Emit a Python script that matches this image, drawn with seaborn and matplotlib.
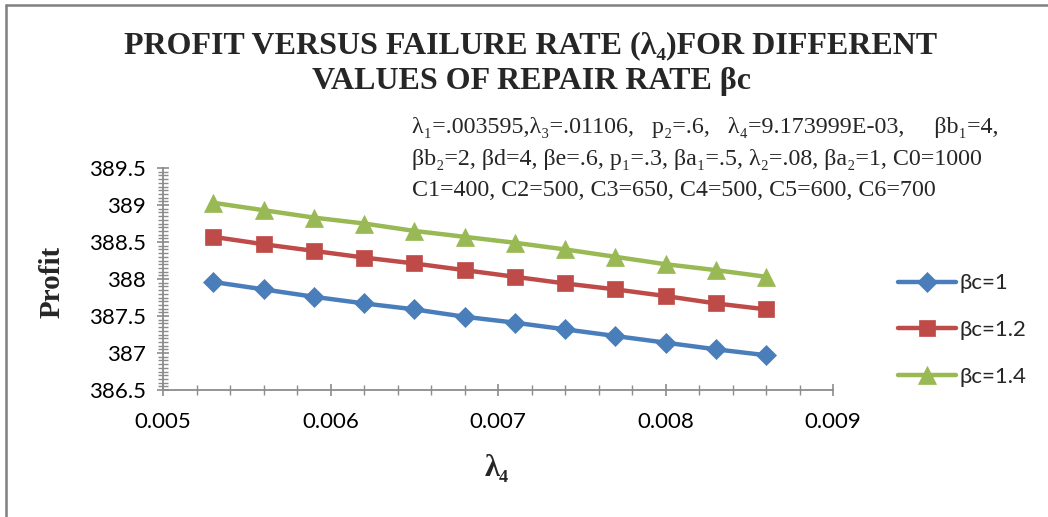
import matplotlib
matplotlib.use("Agg")
import matplotlib.pyplot as plt
from matplotlib.ticker import MultipleLocator, FuncFormatter
from matplotlib.lines import Line2D
import seaborn as sns
import pandas as pd

# ---- data ----
lambda4 = [0.0053, 0.0056, 0.0059, 0.0062, 0.0065, 0.0068,
           0.0071, 0.0074, 0.0077, 0.0080, 0.0083, 0.0086]
profit_bc1 = [387.96, 387.86, 387.76, 387.67, 387.59, 387.49,
              387.41, 387.32, 387.23, 387.14, 387.05, 386.97]
profit_bc12 = [388.57, 388.47, 388.38, 388.29, 388.21, 388.12,
               388.03, 387.94, 387.86, 387.77, 387.67, 387.59]
profit_bc14 = [389.03, 388.93, 388.83, 388.75, 388.65, 388.57,
               388.49, 388.40, 388.30, 388.20, 388.12, 388.03]
series_labels = ["βc=1", "βc=1.2", "βc=1.4"]
x_ticks = [0.005, 0.006, 0.007, 0.008, 0.009]
y_ticks = [386.5, 387, 387.5, 388, 388.5, 389, 389.5]

title_text = "PROFIT VERSUS FAILURE RATE (λ₄)FOR DIFFERENT\nVALUES OF REPAIR RATE βc"
param_lines = [
    "λ₁=.003595,λ₃=.01106,   p₂=.6,   λ₄=9.173999E-03,     βb₁=4,",
    "βb₂=2, βd=4, βe=.6, p₁=.3, βa₁=.5, λ₂=.08, βa₂=1, C0=1000",
    "C1=400, C2=500, C3=650, C4=500, C5=600, C6=700",
]

colors = ["#4A7EBB", "#BE4B48", "#98B954"]
markers = ["D", "s", "^"]
msizes = [10.5, 11, 12.5]

sns.set_theme(style="white")
plt.rcParams["font.family"] = ["Lato", "DejaVu Sans"]

W, H = 1048, 517
fig = plt.figure(figsize=(W / 100, H / 100), dpi=100)
ax = fig.add_axes([163 / W, 1 - 390 / H, (833 - 163) / W, (390 - 168) / H])

series = [profit_bc1, profit_bc12, profit_bc14]
for vals, lab, c, m, ms in zip(series, series_labels, colors, markers, msizes):
    df = pd.DataFrame({"lambda4": lambda4, "Profit": vals})
    sns.lineplot(data=df, x="lambda4", y="Profit", ax=ax, color=c, marker=m,
                 markersize=ms, markeredgecolor=c, markeredgewidth=0.5,
                 linewidth=3.2, label=lab)

ax.set_xlim(0.005, 0.009)
ax.set_ylim(386.5, 389.5)
ax.set_xticks(x_ticks)
ax.set_yticks(y_ticks)
ax.xaxis.set_minor_locator(MultipleLocator(0.0002))
ax.yaxis.set_minor_locator(MultipleLocator(0.05))
fmt = FuncFormatter(lambda v, p: f"{v:g}")
ax.xaxis.set_major_formatter(fmt)
ax.yaxis.set_major_formatter(fmt)

for s in ["top", "right"]:
    ax.spines[s].set_visible(False)
for s in ["left", "bottom"]:
    ax.spines[s].set_color("#8C8C8C")
    ax.spines[s].set_linewidth(1.3)
ax.tick_params(which="major", direction="inout", length=9, width=1.2,
               color="#8C8C8C", labelsize=16, labelcolor="black")
ax.tick_params(which="minor", direction="inout", length=7, width=1.0,
               color="#8C8C8C")
ax.tick_params(axis="y", which="both", left=True, pad=8)
ax.tick_params(axis="x", which="both", bottom=True, pad=11)
ax.grid(False)

ax.set_xlabel("")
ax.set_ylabel("")

# axis titles
fig.text(497 / W, 1 - 468 / H, "λ₄", ha="center", va="center",
         fontsize=22, fontweight="bold",
         family=["Liberation Serif", "DejaVu Serif"])
fig.text(52 / W, 1 - 282 / H, "Profit", ha="center", va="center",
         rotation=90, fontsize=21, fontweight="bold",
         family=["Liberation Serif", "DejaVu Serif"])

# chart title
fig.text(531 / W, 1 - 64 / H, title_text, ha="center", va="center",
         fontsize=23, fontweight="bold", linespacing=1.3,
         family=["Liberation Serif", "DejaVu Serif"])

# parameter box text
for i, line in enumerate(param_lines):
    fig.text(412 / W, 1 - (128 + 31 * i) / H, line, ha="left", va="center",
             fontsize=17.3, family=["Liberation Serif", "DejaVu Serif"])

# legend
leg = ax.legend(loc="center left", bbox_to_anchor=(898 / W, 1 - 330 / H),
                bbox_transform=fig.transFigure, frameon=False, fontsize=16,
                handlelength=2.6, handletextpad=0.15, labelspacing=1.2,
                borderpad=0, borderaxespad=0)

# chart border (top and left visible)
fig.add_artist(Line2D([6 / W, 1], [1 - 5 / H, 1 - 5 / H], color="#808080",
                      linewidth=1.8, transform=fig.transFigure))
fig.add_artist(Line2D([6 / W, 6 / W], [0, 1 - 5 / H], color="#808080",
                      linewidth=1.8, transform=fig.transFigure))

fig.savefig("out.png", dpi=100)
